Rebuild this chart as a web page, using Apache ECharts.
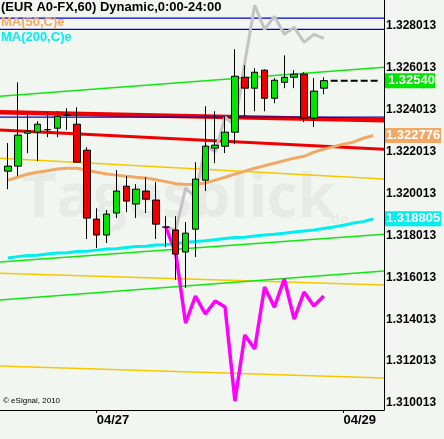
<!DOCTYPE html>
<html><head><meta charset="utf-8">
<script src="https://cdn.jsdelivr.net/npm/echarts@6/dist/echarts.min.js"></script>
<style>html,body{margin:0;padding:0;background:#f2f6f0;}#c{width:444px;height:439px;}</style>
</head><body><div id="c"></div>
<script>
// ---- data ----
const opens  = [1.32108,1.32132,1.32289,1.32294,1.32306,1.32313,1.32375,1.32332,1.32208,1.31879,1.31803,1.31908,1.32036,1.31951,1.32013,1.31970,1.31841,1.31827,1.31722,1.31831,1.32065,1.32218,1.32227,1.32294,1.32556,1.32504,1.32590,1.32456,1.32532,1.32556,1.32571,1.32361,1.32504];
const closes = [1.32132,1.32280,1.32299,1.32332,1.32306,1.32370,1.32375,1.32151,1.31884,1.31803,1.31903,1.32013,1.31965,1.32022,1.31974,1.31855,1.31841,1.31712,1.31812,1.32070,1.32227,1.32232,1.32294,1.32561,1.32504,1.32580,1.32456,1.32542,1.32556,1.32571,1.32361,1.32490,1.32540];
const lows   = [1.32022,1.32084,1.32194,1.32156,1.32270,1.32270,1.32304,1.32151,1.31784,1.31741,1.31765,1.31884,1.31912,1.31884,1.31908,1.31784,1.31745,1.31588,1.31550,1.31698,1.32013,1.32146,1.32194,1.32237,1.32370,1.32394,1.32394,1.32432,1.32504,1.32504,1.32342,1.32318,1.32475];
const highs  = [1.32242,1.32532,1.32389,1.32346,1.32389,1.32394,1.32408,1.32413,1.32222,1.31931,1.31922,1.32113,1.32084,1.32046,1.32079,1.32056,1.31893,1.31893,1.31865,1.32151,1.32418,1.32394,1.32370,1.32690,1.32614,1.32599,1.32594,1.32552,1.32661,1.32590,1.32580,1.32552,1.32556];

const ma50  = [1.32065,1.32079,1.32094,1.32103,1.32110,1.32118,1.32122,1.32122,1.32113,1.32103,1.32094,1.32089,1.32084,1.32079,1.32075,1.32067,1.32058,1.32048,1.32044,1.32046,1.32051,1.32065,1.32079,1.32094,1.32108,1.32122,1.32134,1.32146,1.32158,1.32170,1.32179,1.32199,1.32213,1.32225,1.32237,1.32246,1.32265,1.32278];
const ma200 = [1.31693,1.31700,1.31705,1.31707,1.31712,1.31717,1.31719,1.31724,1.31726,1.31731,1.31736,1.31738,1.31743,1.31748,1.31750,1.31755,1.31757,1.31762,1.31767,1.31772,1.31776,1.31781,1.31786,1.31791,1.31793,1.31798,1.31803,1.31807,1.31812,1.31817,1.31822,1.31827,1.31834,1.31841,1.31850,1.31860,1.31867,1.31880];

const overlayStart = 16;
const grayLine    = [1.31841,1.31827,1.32027,1.31984,1.32232,1.32199,1.32366,1.32327,1.32628,1.32900,1.32785,1.32847,1.32761,1.32795,1.32723,1.32761,1.32742];
const magentaLine = [1.31841,1.31717,1.31383,1.31512,1.31426,1.31488,1.31459,1.31011,1.31326,1.31259,1.31555,1.31459,1.31593,1.31402,1.31531,1.31464,1.31512];

const lineSpan   = [-0.8, 38.1];
const blueLevels = [1.32838, 1.32785, 1.32366];
const redThick   = [1.32389, 1.32351];
const redThin    = [1.32304, 1.32213];
const greenLines = [[1.32466,1.32604],[1.31674,1.31807],[1.31493,1.31631]];
const yellowLines= [[1.32170,1.32070],[1.31621,1.31564],[1.31178,1.31121]];
const lastPrice  = 1.32540;
const lastSpan   = [32.7, 37.5];

const yTicks = [1.310013,1.312013,1.314013,1.316013,1.318013,1.320013,1.322013,1.324013,1.326013,1.328013];
const tagValues = [1.32540, 1.322776, 1.318805];
const tagStyles = ['g','o','c'];
const dateTickIdx = [9, 34];
const dateTickLabels = ['04/27','04/29'];

// ---- build ----
const candleData = opens.map((o,i)=>[i,o,closes[i],lows[i],highs[i]]);
const seg = (a,b)=>[[lineSpan[0],a],[lineSpan[1],b]];
const lineS = (data,color,width,z)=>({type:'line',data,symbol:'none',silent:true,z:z||2,
  lineStyle:{color,width},animation:false});

const series = [];
yellowLines.forEach(p=>series.push(lineS(seg(p[0],p[1]),'#f5c800',1.5)));
greenLines.forEach(p=>series.push(lineS(seg(p[0],p[1]),'#11e611',1.5)));
series.push(lineS(seg(redThin[0],redThin[1]),'#ee0000',3));
series.push(lineS(seg(redThick[0],redThick[1]),'#ee0000',4.5));
blueLevels.forEach(v=>series.push(lineS(seg(v,v),'#0000cc',1.3)));
series.push(lineS(ma50.map((v,i)=>[i,v]),'#f2a865',3));
series.push(lineS(ma200.map((v,i)=>[i,v]),'#00eeee',3));
series.push(lineS(grayLine.map((v,i)=>[i+overlayStart,v]),'#c3c3c3',3));
series.push(lineS(magentaLine.map((v,i)=>[i+overlayStart,v]),'#ff00ff',3.5));
series.push({type:'candlestick',data:candleData,encode:{x:0,y:[1,2,3,4]},barWidth:7,z:5,silent:true,
  itemStyle:{color:'#00e400',color0:'#ee0000',borderColor:'#000',borderColor0:'#000',borderColorDoji:'#000',borderWidth:1}});
series.push({type:'line',data:[[lastSpan[0],lastPrice],[lastSpan[1],lastPrice]],symbol:'none',z:6,silent:true,
  lineStyle:{color:'#000',width:2,type:[7,3]}});

const F = '"Liberation Sans", Arial, sans-serif';
const chart = echarts.init(document.getElementById('c'));
chart.setOption({
  animation:false,
  backgroundColor:'#f2f6f0',
  grid:{left:0,top:0,right:55,bottom:29},
  xAxis:{type:'value',min:lineSpan[0],max:lineSpan[1],
    axisLine:{show:true,onZero:false,lineStyle:{color:'#000',width:1}},
    splitLine:{show:false},
    axisTick:{show:true,customValues:dateTickIdx,length:3,lineStyle:{color:'#000'}},
    axisLabel:{customValues:dateTickIdx,align:'left',margin:4,color:'#000',fontWeight:'bold',fontSize:13,fontFamily:F,
      formatter:v=>dateTickLabels[dateTickIdx.indexOf(Math.round(v))]||''}},
  yAxis:[{type:'value',position:'right',min:1.309679,max:1.329249,
    axisLine:{show:true,onZero:false,lineStyle:{color:'#000',width:1}},
    axisTick:{show:false},splitLine:{show:false},
    axisLabel:{customValues:yTicks,formatter:v=>v.toFixed(6),color:'#000',fontWeight:'bold',fontSize:12,margin:2,fontFamily:F}},
   {type:'value',position:'right',min:1.309679,max:1.329249,
    axisLine:{show:false,onZero:false},axisTick:{show:false},splitLine:{show:false},
    axisLabel:{customValues:tagValues,margin:1,fontFamily:F,
      formatter:v=>{const k=tagValues.findIndex(t=>Math.abs(t-v)<1e-7);const s=tagStyles[k];
        return '{'+s+'|'+(k===0?v.toFixed(5):v.toFixed(6))+'}';},
      rich:{
        g:{color:'#fff',backgroundColor:'#00e400',fontWeight:'bold',fontSize:13,fontFamily:F,padding:[1,3,1,3],width:44},
        o:{color:'#fff',backgroundColor:'#f2a865',fontWeight:'bold',fontSize:13,fontFamily:F,padding:[1,1,1,1],width:54},
        c:{color:'#fff',backgroundColor:'#00eeee',fontWeight:'bold',fontSize:13,fontFamily:F,padding:[1,1,1,1],width:54}
      }}}],
  series,
  graphic:[
    {type:'text',left:22,top:170,z:0,silent:true,style:{text:'Tagesblick',fill:'#e7ebe5',font:'bold 60px "Open Sans", sans-serif'}},
    {type:'text',left:326,top:212,z:0,silent:true,style:{text:'.de',fill:'#e7ebe5',font:'bold 15px "Open Sans", sans-serif'}},
    {type:'text',left:1,top:1,z:100,silent:true,style:{text:'(EUR A0-FX,60) Dynamic,0:00-24:00',fill:'#000',font:'bold 13px '+F}},
    {type:'text',left:1,top:16,z:100,silent:true,style:{text:'MA(50,C)e',fill:'#f2a865',font:'bold 13px '+F}},
    {type:'text',left:1,top:31,z:100,silent:true,style:{text:'MA(200,C)e',fill:'#00eeee',font:'bold 13px '+F}},
    {type:'text',left:3,top:397,z:100,silent:true,style:{text:'© eSignal, 2010',fill:'#000',font:'8px '+F}}
  ]
});
</script></body></html>
